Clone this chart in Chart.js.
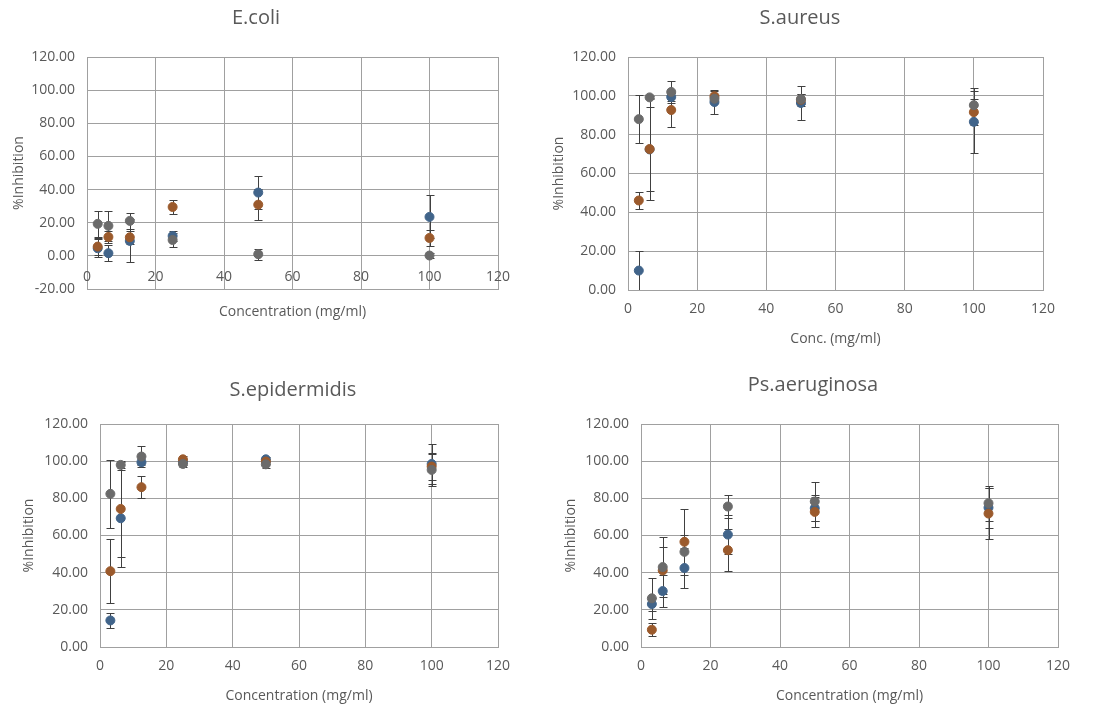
<!DOCTYPE html>
<html>
<head>
<meta charset="utf-8">
<script src="https://cdn.jsdelivr.net/npm/chart.js@4.4.1/dist/chart.umd.min.js"></script>
<style>
  body { margin: 0; background: #fff; }
  .panel { position: absolute; }
</style>
</head>
<body>
<div class="panel" style="left:0;top:0"><canvas id="c1" width="550" height="350"></canvas></div>
<div class="panel" style="left:550px;top:0"><canvas id="c2" width="555" height="350"></canvas></div>
<div class="panel" style="left:0;top:355px"><canvas id="c3" width="550" height="351"></canvas></div>
<div class="panel" style="left:550px;top:355px"><canvas id="c4" width="555" height="351"></canvas></div>
<script>
// concentrations (mg/ml)
const conc = [3.125, 6.25, 12.5, 25, 50, 100];

// E.coli
const ecoliBlue = [4.6, 1.6, 9.0, 12.0, 38.2, 23.5];
const ecoliBlueErr = [5.5, 5.0, 13.0, 3.0, 10.0, 13.0];
const ecoliOrange = [5.6, 11.4, 11.2, 29.5, 30.9, 10.8];
const ecoliOrangeErr = [5.0, 3.5, 4.0, 4.0, 9.3, 4.8];
const ecoliGray = [19.3, 18.1, 21.1, 9.6, 1.0, 0.2];
const ecoliGrayErr = [7.8, 9.0, 4.6, 4.2, 3.3, 1.5];

// S.aureus
const aureusBlue = [10.0, 72.4, 99.4, 96.8, 96.3, 86.6];
const aureusBlueErr = [10.0, 21.6, 2.0, 6.0, 8.7, 16.1];
const aureusOrange = [46.1, 72.6, 92.7, 99.8, 98.0, 91.6];
const aureusOrangeErr = [4.3, 26.2, 8.6, 2.5, 3.0, 6.7];
const aureusGray = [88.0, 99.2, 102.0, 98.5, 98.3, 95.2];
const aureusGrayErr = [12.3, 0.8, 5.7, 2.0, 2.7, 8.8];

// S.epidermidis
const epiBlue = [14.3, 69.3, 99.4, 99.5, 101.0, 98.5];
const epiBlueErr = [4.0, 26.0, 1.5, 1.5, 1.5, 10.6];
const epiOrange = [40.8, 74.3, 86.0, 101.0, 99.8, 97.1];
const epiOrangeErr = [17.3, 26.0, 5.8, 2.0, 1.5, 7.5];
const epiGray = [82.4, 98.0, 102.5, 98.5, 98.3, 95.3];
const epiGrayErr = [18.3, 1.5, 5.4, 1.5, 2.0, 8.4];

// Ps.aeruginosa
const psBlue = [23.1, 30.1, 42.5, 60.5, 74.7, 75.0];
const psBlueErr = [3.5, 8.6, 10.8, 10.6, 7.0, 10.8];
const psOrange = [9.3, 41.2, 56.6, 52.1, 72.7, 71.8];
const psOrangeErr = [3.5, 12.5, 17.7, 11.3, 8.0, 13.6];
const psGray = [26.2, 43.0, 51.2, 75.6, 78.3, 77.4];
const psGrayErr = [10.9, 16.1, 9.0, 6.3, 10.7, 9.5];

const BLUE = '#41648a';
const ORANGE = '#9b5a2c';
const GRAY = '#6b6b6b';
const TEXT = '#595959';
const GRID = '#a0a0a0';
const FONT = "'Open Sans', sans-serif";

// error bars, drawn under the markers
const errorBars = {
  id: 'errorBars',
  beforeDatasetsDraw(chart) {
    const {ctx, chartArea, scales} = chart;
    ctx.save();
    ctx.beginPath();
    ctx.rect(chartArea.left, chartArea.top, chartArea.right - chartArea.left, chartArea.bottom - chartArea.top);
    ctx.clip();
    ctx.strokeStyle = '#404040';
    ctx.lineWidth = 1;
    chart.data.datasets.forEach(ds => {
      ds.data.forEach((p, i) => {
        const e = ds.errors[i];
        const x = Math.round(scales.x.getPixelForValue(p.x)) + 0.5;
        const yT = Math.round(scales.y.getPixelForValue(p.y + e)) + 0.5;
        const yB = Math.round(scales.y.getPixelForValue(p.y - e)) + 0.5;
        ctx.beginPath();
        ctx.moveTo(x, yT); ctx.lineTo(x, yB);
        ctx.moveTo(x - 4, yT); ctx.lineTo(x + 4, yT);
        ctx.moveTo(x - 4, yB); ctx.lineTo(x + 4, yB);
        ctx.stroke();
      });
    });
    ctx.restore();
  }
};

// panel title at a fixed spot
const panelTitle = {
  id: 'panelTitle',
  afterDraw(chart, args, opts) {
    const ctx = chart.ctx;
    ctx.save();
    ctx.font = '20px ' + FONT;
    ctx.fillStyle = TEXT;
    ctx.textAlign = 'center';
    ctx.textBaseline = 'middle';
    ctx.fillText(opts.text, opts.x, opts.y);
    ctx.restore();
  }
};

// x tick labels sitting on the y = 0 line (E.coli)
const zeroAxisLabels = {
  id: 'zeroAxisLabels',
  afterDraw(chart, args, opts) {
    if (!opts.on) return;
    const {ctx, scales} = chart;
    const y0 = scales.y.getPixelForValue(0);
    ctx.save();
    ctx.font = '14px ' + FONT;
    ctx.fillStyle = TEXT;
    ctx.textAlign = 'center';
    ctx.textBaseline = 'middle';
    scales.x.ticks.forEach(t => {
      ctx.fillText(String(t.value), scales.x.getPixelForValue(t.value), y0 + 21);
    });
    ctx.restore();
  }
};

function pts(ys) {
  return ys.map((y, i) => ({x: conc[i], y: y}));
}

function series(ys, errs, color, order) {
  return {
    data: pts(ys),
    errors: errs,
    backgroundColor: color,
    borderColor: color,
    borderWidth: 1,
    pointRadius: 4.5,
    pointHoverRadius: 4.5,
    showLine: false,
    order: order
  };
}

function makeChart(id, p) {
  const W = p.w, H = p.h;
  new Chart(document.getElementById(id), {
    type: 'scatter',
    data: {
      datasets: [
        series(p.blue, p.blueErr, BLUE, 3),
        series(p.orange, p.orangeErr, ORANGE, 2),
        series(p.gray, p.grayErr, GRAY, 1)
      ]
    },
    options: {
      responsive: false,
      animation: false,
      events: [],
      layout: { padding: { top: p.top, right: W - p.right, left: 0, bottom: 0 } },
      scales: {
        x: {
          type: 'linear',
          min: 0, max: 120,
          ticks: { stepSize: 20, display: !p.zeroLabels, color: TEXT, padding: 11, font: { family: FONT, size: 14 } },
          grid: { color: GRID, drawTicks: false },
          border: { color: GRID },
          title: { display: true, text: p.xTitle, color: TEXT, font: { family: FONT, size: 14 }, padding: { top: 0, bottom: p.xTitlePad } },
          afterFit(s) { s.height = H - p.bottom; }
        },
        y: {
          min: p.ymin, max: 120,
          ticks: { stepSize: 20, color: TEXT, padding: 12, font: { family: FONT, size: 14 }, callback: v => v.toFixed(2) },
          grid: { color: GRID, drawTicks: false },
          border: { color: GRID },
          title: { display: true, text: '%Inhibition', color: TEXT, font: { family: FONT, size: 14 }, padding: { top: p.yTitlePad, bottom: 0 } },
          afterFit(s) { s.width = p.left; }
        }
      },
      plugins: {
        legend: { display: false },
        tooltip: { enabled: false },
        panelTitle: { text: p.title, x: p.tx, y: p.ty },
        zeroAxisLabels: { on: !!p.zeroLabels }
      }
    },
    plugins: [errorBars, panelTitle, zeroAxisLabels]
  });
}

makeChart('c1', {
  w: 550, h: 350, left: 87, top: 57, right: 498, bottom: 289,
  ymin: -20, zeroLabels: true, title: 'E.coli', tx: 256, ty: 18,
  xTitle: 'Concentration (mg/ml)', xTitlePad: 30, yTitlePad: 11,
  blue: ecoliBlue, blueErr: ecoliBlueErr, orange: ecoliOrange, orangeErr: ecoliOrangeErr,
  gray: ecoliGray, grayErr: ecoliGrayErr
});
makeChart('c2', {
  w: 555, h: 350, left: 78, top: 57, right: 493, bottom: 290,
  ymin: 0, title: 'S.aureus', tx: 250, ty: 18,
  xTitle: 'Conc. (mg/ml)', xTitlePad: 3, yTitlePad: 1,
  blue: aureusBlue, blueErr: aureusBlueErr, orange: aureusOrange, orangeErr: aureusOrangeErr,
  gray: aureusGray, grayErr: aureusGrayErr
});
makeChart('c3', {
  w: 550, h: 351, left: 100, top: 69, right: 498, bottom: 292,
  ymin: 0, title: 'S.epidermidis', tx: 293, ty: 35,
  xTitle: 'Concentration (mg/ml)', xTitlePad: 2, yTitlePad: 21,
  blue: epiBlue, blueErr: epiBlueErr, orange: epiOrange, orangeErr: epiOrangeErr,
  gray: epiGray, grayErr: epiGrayErr
});
makeChart('c4', {
  w: 555, h: 351, left: 91, top: 69, right: 508, bottom: 292,
  ymin: 0, title: 'Ps.aeruginosa', tx: 263, ty: 30,
  xTitle: 'Concentration (mg/ml)', xTitlePad: 2, yTitlePad: 13,
  blue: psBlue, blueErr: psBlueErr, orange: psOrange, orangeErr: psOrangeErr,
  gray: psGray, grayErr: psGrayErr
});
</script>
</body>
</html>
